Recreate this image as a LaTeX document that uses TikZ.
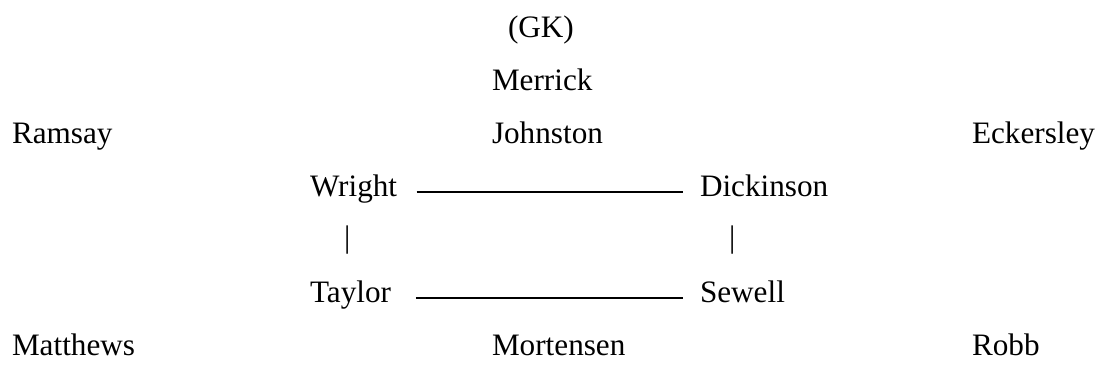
\documentclass[tikz,border=0pt]{standalone}
\usepackage{fontspec}
\setmainfont{Liberation Serif}
\begin{document}
\begin{tikzpicture}[
  x = 0.5pt,
  y = -0.5pt,
  player/.style = {
    anchor = base west,
    inner sep = 0pt,
    outer sep = 0pt,
    font = \fontsize{15.6pt}{18pt}\selectfont
  },
  link/.style = {
    line width = 1pt
  }
]
  \useasboundingbox (0, 0) rectangle (1104, 369);
  \node[player] (gk) at (508, 37.6) {(GK)};
  \node[player] (merrick) at (492, 90.6) {Merrick};

  \node[player] (ramsay) at (12, 143.6) {Ramsay};
  \node[player] (johnston) at (492, 143.6) {Johnston};
  \node[player] (eckersley) at (972, 143.6) {Eckersley};

  \node[player] (wright) at (310, 196.6) {Wright};
  \node[player] (dickinson) at (700, 196.6) {Dickinson};

  \node[player] (barl) at (344, 247.5) {|};
  \node[player] (barr) at (729, 247.5) {|};

  \node[player] (taylor) at (310, 302.6) {Taylor};
  \node[player] (sewell) at (700, 302.6) {Sewell};

  \node[player] (matthews) at (12, 355.6) {Matthews};
  \node[player] (mortensen) at (492, 355.6) {Mortensen};
  \node[player] (robb) at (972, 355.6) {Robb};

  \draw[link] ([xshift = 9.8pt, yshift = 2.25pt] wright.base east) -- ([xshift = -8.5pt, yshift = 2.25pt] dickinson.base west);
  \draw[link] ([xshift = 12.5pt, yshift = 2.25pt] taylor.base east) -- ([xshift = -8.5pt, yshift = 2.25pt] sewell.base west);
\end{tikzpicture}
\end{document}
